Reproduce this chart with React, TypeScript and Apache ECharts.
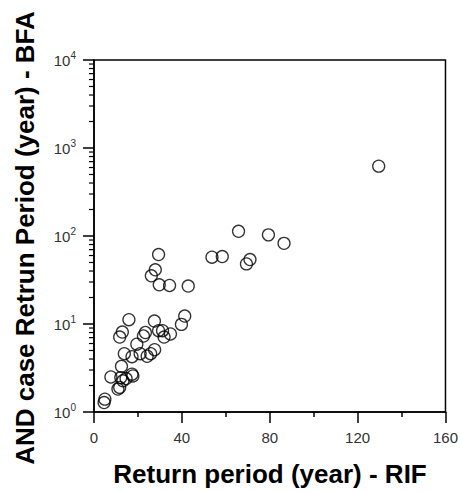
import React, { useEffect, useRef } from "react";
import * as echarts from "echarts";

const rifValues = [
  129.6, 65.8, 79.4, 86.5, 53.7, 58.4, 69.4, 71.0, 29.4, 27.9, 26.1, 29.7, 34.4, 42.9,
  15.9, 27.5, 41.3, 39.8, 12.9, 11.7, 23.4, 22.5, 29.4, 31.2, 31.9, 34.8, 19.5, 13.8,
  17.3, 21.0, 24.2, 25.8, 27.6, 12.5, 7.7, 12.2, 13.2, 17.3, 17.7, 10.9, 11.7, 4.95,
  4.6, 14.6,
];
const bfaValues = [
  622, 113, 103, 82.5, 57.4, 58.4, 48.2, 54, 61.5, 41.3, 35.3, 27.9, 27.4, 27,
  11.2, 10.8, 12.3, 9.9, 8.1, 7.1, 8.0, 7.3, 8.4, 8.4, 7.1, 7.7, 5.9, 4.6,
  4.25, 4.6, 4.3, 4.6, 5.1, 3.3, 2.5, 2.46, 2.26, 2.69, 2.57, 1.82, 1.9, 1.4,
  1.28, 2.4,
];
const xTicks = [0, 40, 80, 120, 160];
const yDecades = [1, 10, 100, 1000, 10000];
const minorMultipliers = [2, 3, 4, 5, 6, 7, 8, 9];
const xTitle = "Return period (year) - RIF";
const yTitle = "AND case Retrun Period (year) - BFA";

export default function App() {
  const ref = useRef<HTMLDivElement>(null);
  useEffect(() => {
    if (!ref.current) return;
    const chart = echarts.init(ref.current, null, { renderer: "svg" });
    const points = rifValues.map((x, i) => [x, bfaValues[i]]);
    const minorData: number[][] = [];
    yDecades.slice(0, -1).forEach((d) =>
      minorMultipliers.forEach((m) => minorData.push([xTicks[0], d * m]))
    );
    const font = "Arial, 'Liberation Sans', sans-serif";
    chart.setOption({
      animation: false,
      grid: {
        left: 94,
        right: 12,
        top: 60,
        bottom: 80,
        show: true,
        borderColor: "#000",
        borderWidth: 1.5,
        backgroundColor: "transparent",
      },
      xAxis: {
        type: "value",
        min: xTicks[0],
        max: xTicks[xTicks.length - 1],
        interval: 40,
        axisLine: { show: true, lineStyle: { color: "#000", width: 1.5 } },
        axisTick: { show: true, length: 11, lineStyle: { color: "#000", width: 1.5 } },
        minorTick: { show: true, splitNumber: 2, length: 5, lineStyle: { color: "#000", width: 1.5 } },
        splitLine: { show: false },
        axisLabel: { margin: 18, fontSize: 15, color: "#333", fontFamily: font },
      },
      yAxis: {
        type: "log",
        logBase: 10,
        min: yDecades[0],
        max: yDecades[yDecades.length - 1],
        axisLine: { show: true, lineStyle: { color: "#000", width: 1.5 } },
        axisTick: { show: true, length: 11, lineStyle: { color: "#000", width: 1.5 } },
        splitLine: { show: false },
        axisLabel: {
          margin: 18,
          fontFamily: font,
          formatter: (v: number) => `{b|10}{s|${Math.round(Math.log10(v))}}`,
          rich: {
            b: { fontSize: 15, color: "#333", fontFamily: font },
            s: { fontSize: 10, color: "#333", fontFamily: font, padding: [0, 0, 10, 0] },
          },
        },
      },
      graphic: [
        {
          type: "text",
          x: 270,
          y: 474,
          style: {
            text: xTitle,
            fontSize: 26,
            fontWeight: "bold",
            fontFamily: font,
            fill: "#000",
            align: "center",
            verticalAlign: "middle",
          },
        },
        {
          type: "text",
          x: 25,
          y: 238,
          rotation: Math.PI / 2,
          style: {
            text: yTitle,
            fontSize: 26,
            fontWeight: "bold",
            fontFamily: font,
            fill: "#000",
            align: "center",
            verticalAlign: "middle",
          },
        },
      ],
      series: [
        {
          type: "custom",
          clip: false,
          silent: true,
          data: minorData,
          encode: { x: 0, y: 1 },
          renderItem: (_params: any, api: any) => {
            const p = api.coord([api.value(0), api.value(1)]);
            return {
              type: "line",
              shape: { x1: p[0] - 5, y1: p[1], x2: p[0], y2: p[1] },
              style: { stroke: "#000", lineWidth: 1.2 },
            };
          },
        },
        {
          type: "scatter",
          data: points,
          symbol: "circle",
          symbolSize: 12,
          itemStyle: { color: "rgba(0,0,0,0)", borderColor: "#000", borderWidth: 1.3 },
        },
      ],
    });
    return () => chart.dispose();
  }, []);
  return (
    <div
      ref={ref}
      style={{ position: "fixed", left: 0, top: 0, width: 461, height: 492, background: "#fff" }}
    />
  );
}
